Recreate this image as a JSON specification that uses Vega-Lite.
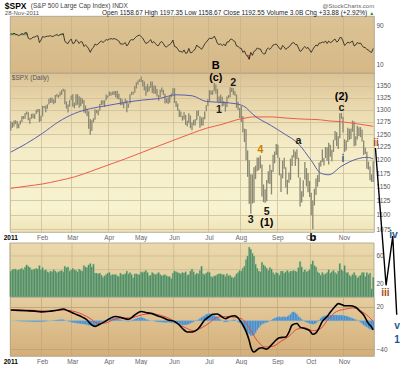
{
"$schema":"https://vega.github.io/schema/vega-lite/v6.json",
"background":"white",
"padding":{"left":2,"top":1,"right":0,"bottom":0},
"config":{"font":"Liberation Sans","view":{"stroke":"#a69e88","strokeWidth":0.8},"axis":{"labelFontSize":6.5,"labelColor":"#555","ticks":false,"domain":false,"labelFont":"Liberation Sans"}},
"datasets":{
"p":[
{"d":"2011-01-03","h":1276.2,"l":1257.6,"v":38,"r":73,"mh":0,"m5":1215,"m2":1147,"mc":15,"sg":15},
{"d":"2011-01-04","h":1274.1,"l":1262.7,"v":40,"r":72,"mh":0},
{"d":"2011-01-05","h":1277.6,"l":1265.4,"v":41,"r":74,"mh":0},
{"d":"2011-01-06","h":1278.2,"l":1270.4,"v":41,"r":72,"mh":-0.2},
{"d":"2011-01-07","h":1276.8,"l":1261.7,"v":39,"r":71,"mh":-0.3},
{"d":"2011-01-10","h":1271.5,"l":1262.2,"v":40,"r":69,"mh":-0.5,"mc":14.5},
{"d":"2011-01-11","h":1277.6,"l":1269.8,"v":41,"r":71,"mh":-0.6},
{"d":"2011-01-12","h":1286.9,"l":1274.5,"v":42,"r":73,"mh":-0.7},
{"d":"2011-01-13","h":1286.9,"l":1280.5,"v":40,"r":72,"mh":-0.8},
{"d":"2011-01-14","h":1293.2,"l":1281.1,"v":44,"r":75,"mh":-0.9},
{"d":"2011-01-18","h":1296.1,"l":1290.2,"v":47,"r":75,"mh":-1,"m5":1232,"m2":1151,"mc":14,"sg":15},
{"d":"2011-01-19","h":1294.4,"l":1278.2,"v":45,"r":64,"mh":-1.1},
{"d":"2011-01-20","h":1283.3,"l":1271.3,"v":43,"r":62,"mh":-1.2},
{"d":"2011-01-21","h":1291.2,"l":1281.1,"v":40,"r":63,"mh":-1.3},
{"d":"2011-01-24","h":1291.9,"l":1282.5,"v":40,"r":66,"mh":-1.4},
{"d":"2011-01-25","h":1291.3,"l":1281.1,"v":41,"r":66,"mh":-1.5,"mc":13.5},
{"d":"2011-01-26","h":1299.7,"l":1291.2,"v":42,"r":68,"mh":-1.5},
{"d":"2011-01-27","h":1301.3,"l":1294.4,"v":41,"r":69,"mh":-1.5},
{"d":"2011-01-28","h":1301.3,"l":1274.8,"v":46,"r":55,"mh":-1.6},
{"d":"2011-01-31","h":1287.2,"l":1276.3,"v":40,"r":60,"mh":-1.5,"mc":12.5,"sg":14},
{"d":"2011-02-01","h":1308,"l":1286.1,"v":43,"r":67,"mh":-1.2,"m5":1252,"m2":1155},
{"d":"2011-02-02","h":1307.6,"l":1302.6,"v":39,"r":66,"mh":-1},
{"d":"2011-02-03","h":1308.6,"l":1294.8,"v":40,"r":67,"mh":-0.7},
{"d":"2011-02-04","h":1311,"l":1301.7,"v":37,"r":68,"mh":-0.4},
{"d":"2011-02-07","h":1322.9,"l":1310.9,"v":36,"r":68,"mh":-0.2},
{"d":"2011-02-08","h":1325,"l":1314.2,"v":38,"r":69,"mh":0,"mc":13.5,"sg":13.5},
{"d":"2011-02-09","h":1324.6,"l":1314.4,"v":37,"r":67,"mh":0.3},
{"d":"2011-02-10","h":1321.1,"l":1311.1,"v":40,"r":68,"mh":0.6},
{"d":"2011-02-11","h":1330.8,"l":1313.7,"v":38,"r":70,"mh":0.9},
{"d":"2011-02-14","h":1332.5,"l":1326.9,"v":36,"r":71,"mh":1.1},
{"d":"2011-02-15","h":1330.8,"l":1324.6,"v":37,"r":69,"mh":1.3,"m5":1275,"m2":1161,"mc":15},
{"d":"2011-02-16","h":1337.6,"l":1328,"v":38,"r":71,"mh":1.5},
{"d":"2011-02-17","h":1341,"l":1331,"v":39,"r":72,"mh":1.6},
{"d":"2011-02-18","h":1344.1,"l":1338.1,"v":37,"r":73,"mh":1.5,"mc":16.5,"sg":15},
{"d":"2011-02-22","h":1342.3,"l":1311,"v":45,"r":58,"mh":0.8},
{"d":"2011-02-23","h":1317,"l":1302.4,"v":43,"r":54,"mh":0},
{"d":"2011-02-24","h":1310.9,"l":1294.3,"v":44,"r":53,"mh":-0.5,"mc":14},
{"d":"2011-02-25","h":1320,"l":1306.1,"v":38,"r":59,"mh":-1.2},
{"d":"2011-02-28","h":1329.4,"l":1320,"v":40,"r":62,"mh":-2,"sg":14},
{"d":"2011-03-01","h":1332.3,"l":1306.1,"v":42,"r":53,"mh":-2.5},
{"d":"2011-03-02","h":1314.4,"l":1302.6,"v":40,"r":54,"mh":-3,"m5":1292,"m2":1168,"mc":10},
{"d":"2011-03-03","h":1332.3,"l":1308.4,"v":39,"r":61,"mh":-3.3},
{"d":"2011-03-04","h":1332.3,"l":1310.3,"v":37,"r":58,"mh":-3.6},
{"d":"2011-03-07","h":1327.7,"l":1304,"v":41,"r":53,"mh":-3.9},
{"d":"2011-03-08","h":1325.1,"l":1306.9,"v":39,"r":57,"mh":-4.2},
{"d":"2011-03-09","h":1323.2,"l":1312.3,"v":38,"r":56,"mh":-4.5,"mc":5,"sg":9},
{"d":"2011-03-10","h":1320,"l":1294.1,"v":46,"r":47,"mh":-4.8},
{"d":"2011-03-11","h":1308.4,"l":1292,"v":44,"r":50,"mh":-5.2},
{"d":"2011-03-14","h":1301.6,"l":1286.4,"v":43,"r":47,"mh":-5.6,"mc":1},
{"d":"2011-03-15","h":1296.4,"l":1261.1,"v":47,"r":42,"mh":-6.2},
{"d":"2011-03-16","h":1280.9,"l":1249.1,"v":49,"r":35,"mh":-6.8,"m5":1302,"m2":1178,"mc":-4,"sg":3},
{"d":"2011-03-17","h":1278,"l":1256.9,"v":44,"r":42,"mh":-7.3},
{"d":"2011-03-18","h":1282.3,"l":1273.7,"v":48,"r":45,"mh":-7.5},
{"d":"2011-03-21","h":1300.6,"l":1279.2,"v":35,"r":52,"mh":-7.2,"mc":-8},
{"d":"2011-03-22","h":1299.6,"l":1292.7,"v":35,"r":50,"mh":-6},
{"d":"2011-03-23","h":1299.8,"l":1288.5,"v":34,"r":52,"mh":-4.5,"sg":-4},
{"d":"2011-03-24","h":1311.8,"l":1297.5,"v":35,"r":56,"mh":-3,"mc":-5},
{"d":"2011-03-25","h":1319.2,"l":1309.7,"v":32,"r":58,"mh":-2},
{"d":"2011-03-28","h":1319.7,"l":1310.2,"v":29,"r":55,"mh":-1},
{"d":"2011-03-29","h":1319.5,"l":1305.3,"v":31,"r":58,"mh":0},
{"d":"2011-03-30","h":1331.7,"l":1319.4,"v":33,"r":61,"mh":1,"m5":1308,"m2":1189,"mc":0,"sg":-3},
{"d":"2011-03-31","h":1329.8,"l":1325,"v":35,"r":60,"mh":1.8},
{"d":"2011-04-01","h":1337.9,"l":1328.9,"v":36,"r":62,"mh":2.5},
{"d":"2011-04-04","h":1336.7,"l":1329.1,"v":32,"r":63,"mh":3,"mc":4},
{"d":"2011-04-05","h":1337.9,"l":1331.1,"v":33,"r":62,"mh":3.2},
{"d":"2011-04-06","h":1339,"l":1330.7,"v":33,"r":63,"mh":3.3,"sg":2},
{"d":"2011-04-07","h":1339,"l":1326.1,"v":33,"r":62,"mh":3.3,"mc":6},
{"d":"2011-04-08","h":1339.5,"l":1322.9,"v":31,"r":60,"mh":2.8},
{"d":"2011-04-11","h":1333.2,"l":1321.1,"v":30,"r":58,"mh":2.2},
{"d":"2011-04-12","h":1324.5,"l":1309,"v":35,"r":52,"mh":1.5},
{"d":"2011-04-13","h":1321.4,"l":1309.5,"v":33,"r":52,"mh":0.8,"mc":4,"sg":4},
{"d":"2011-04-14","h":1314.5,"l":1303,"v":33,"r":52,"mh":0.2},
{"d":"2011-04-15","h":1322.6,"l":1312.7,"v":34,"r":55,"mh":-0.3,"m5":1315,"m2":1202},
{"d":"2011-04-18","h":1319.7,"l":1294.7,"v":38,"r":48,"mh":-0.8},
{"d":"2011-04-19","h":1312.7,"l":1304,"v":34,"r":52,"mh":-1,"mc":2},
{"d":"2011-04-20","h":1332.2,"l":1312.6,"v":36,"r":59,"mh":-0.2,"sg":4},
{"d":"2011-04-21","h":1337.5,"l":1330.4,"v":33,"r":61,"mh":0.7},
{"d":"2011-04-25","h":1337.6,"l":1331.7,"v":28,"r":60,"mh":1.5},
{"d":"2011-04-26","h":1349.6,"l":1335.3,"v":34,"r":64,"mh":2.3,"mc":8},
{"d":"2011-04-27","h":1357.5,"l":1344.4,"v":34,"r":67,"mh":3},
{"d":"2011-04-28","h":1361.7,"l":1352.9,"v":33,"r":69,"mh":3.7},
{"d":"2011-04-29","h":1364.6,"l":1358.7,"v":33,"r":70,"mh":4.3},
{"d":"2011-05-02","h":1370.6,"l":1358.6,"v":37,"r":67,"mh":4.8,"mc":13,"sg":8},
{"d":"2011-05-03","h":1362.9,"l":1348.7,"v":36,"r":64,"mh":4.2,"m5":1320,"m2":1215},
{"d":"2011-05-04","h":1359.4,"l":1340.9,"v":37,"r":58,"mh":3.2},
{"d":"2011-05-05","h":1349.3,"l":1329.2,"v":39,"r":53,"mh":2.2},
{"d":"2011-05-06","h":1354.4,"l":1336.4,"v":36,"r":55,"mh":1.5,"mc":11},
{"d":"2011-05-09","h":1349.4,"l":1338.6,"v":31,"r":57,"mh":0.8},
{"d":"2011-05-10","h":1359.4,"l":1346.3,"v":32,"r":61,"mh":0.3,"sg":10},
{"d":"2011-05-11","h":1359.7,"l":1335.6,"v":36,"r":54,"mh":0,"mc":10},
{"d":"2011-05-12","h":1351.1,"l":1333.4,"v":34,"r":57,"mh":-0.5},
{"d":"2011-05-13","h":1350.5,"l":1333.3,"v":33,"r":53,"mh":-1},
{"d":"2011-05-16","h":1343.3,"l":1327.3,"v":34,"r":49,"mh":-1.5,"mc":7},
{"d":"2011-05-17","h":1330.4,"l":1318.5,"v":36,"r":49,"mh":-1.8,"m5":1323,"m2":1227},
{"d":"2011-05-18","h":1341.5,"l":1326.6,"v":33,"r":55,"mh":-2},
{"d":"2011-05-19","h":1346.8,"l":1336.6,"v":31,"r":57,"mh":-2.2,"mc":5,"sg":7},
{"d":"2011-05-20","h":1342,"l":1330.7,"v":32,"r":53,"mh":-2.3},
{"d":"2011-05-23","h":1333.3,"l":1312.6,"v":33,"r":47,"mh":-2.4},
{"d":"2011-05-24","h":1323.7,"l":1313.9,"v":31,"r":46,"mh":-2.4},
{"d":"2011-05-25","h":1325.9,"l":1311.8,"v":30,"r":49,"mh":-2.3,"mc":1},
{"d":"2011-05-26","h":1328.5,"l":1314.4,"v":30,"r":51,"mh":-2.5,"sg":3},
{"d":"2011-05-27","h":1334,"l":1325.7,"v":27,"r":54,"mh":-2.8},
{"d":"2011-05-31","h":1345.2,"l":1331.1,"v":35,"r":60,"mh":-3},
{"d":"2011-06-01","h":1345.2,"l":1313.7,"v":38,"r":47,"mh":-3.5,"mc":-1},
{"d":"2011-06-02","h":1318,"l":1305.6,"v":37,"r":46,"mh":-4,"m5":1331,"m2":1240},
{"d":"2011-06-03","h":1312.9,"l":1297.9,"v":36,"r":42,"mh":-4.5,"sg":-4},
{"d":"2011-06-06","h":1300.2,"l":1284.9,"v":35,"r":37,"mh":-5,"mc":-6},
{"d":"2011-06-07","h":1296.2,"l":1284.7,"v":34,"r":37,"mh":-5.5},
{"d":"2011-06-08","h":1287.2,"l":1277.4,"v":36,"r":35,"mh":-6,"mc":-11},
{"d":"2011-06-09","h":1294.5,"l":1279.6,"v":35,"r":40,"mh":-6},
{"d":"2011-06-10","h":1289,"l":1268.5,"v":37,"r":33,"mh":-6,"sg":-10},
{"d":"2011-06-13","h":1277,"l":1265.6,"v":32,"r":34,"mh":-5.5,"mc":-16},
{"d":"2011-06-14","h":1292.5,"l":1272,"v":33,"r":43,"mh":-4.5},
{"d":"2011-06-15","h":1287.9,"l":1261.9,"v":38,"r":34,"mh":-3.5},
{"d":"2011-06-16","h":1274.1,"l":1258.1,"v":41,"r":35,"mh":-2.5,"m5":1329,"m2":1252,"mc":-16},
{"d":"2011-06-17","h":1279,"l":1267.6,"v":37,"r":38,"mh":-1.5,"sg":-14},
{"d":"2011-06-20","h":1280.4,"l":1267.6,"v":33,"r":42,"mh":-0.5},
{"d":"2011-06-21","h":1297.6,"l":1278.4,"v":35,"r":50,"mh":0.5},
{"d":"2011-06-22","h":1298.6,"l":1286.8,"v":34,"r":46,"mh":1.5,"mc":-11},
{"d":"2011-06-23","h":1286.8,"l":1262.9,"v":39,"r":45,"mh":3},
{"d":"2011-06-24","h":1283.5,"l":1267.2,"v":45,"r":41,"mh":4.5,"sg":-10},
{"d":"2011-06-27","h":1284.9,"l":1267.5,"v":34,"r":46,"mh":6},
{"d":"2011-06-28","h":1296.2,"l":1280.1,"v":33,"r":52,"mh":7,"mc":1},
{"d":"2011-06-29","h":1309.2,"l":1296.7,"v":35,"r":56,"mh":9,"m5":1317,"m2":1262},
{"d":"2011-06-30","h":1322,"l":1307.6,"v":37,"r":60,"mh":9.5},
{"d":"2011-07-01","h":1341,"l":1318.2,"v":36,"r":64,"mh":10,"mc":6,"sg":-3},
{"d":"2011-07-05","h":1340,"l":1331.3,"v":30,"r":63,"mh":9.5},
{"d":"2011-07-06","h":1340.1,"l":1330.9,"v":29,"r":64,"mh":9,"mc":9},
{"d":"2011-07-07","h":1356.5,"l":1339.2,"v":31,"r":68,"mh":7.5},
{"d":"2011-07-08","h":1353.2,"l":1333.2,"v":31,"r":62,"mh":6},
{"d":"2011-07-11","h":1343.8,"l":1316.4,"v":33,"r":53,"mh":4.5,"mc":9.5,"sg":5},
{"d":"2011-07-12","h":1327.2,"l":1313.3,"v":34,"r":51,"mh":3},
{"d":"2011-07-13","h":1331.5,"l":1313.6,"v":34,"r":52,"mh":1.5},
{"d":"2011-07-14","h":1326.7,"l":1306.3,"v":33,"r":49,"mh":0,"m5":1315,"m2":1270,"mc":5},
{"d":"2011-07-15","h":1317.7,"l":1307.8,"v":33,"r":52,"mh":-1},
{"d":"2011-07-18","h":1316.1,"l":1295.9,"v":30,"r":48,"mh":-2,"mc":3,"sg":6},
{"d":"2011-07-19","h":1327.2,"l":1305.4,"v":34,"r":56,"mh":-1.5},
{"d":"2011-07-20","h":1330.4,"l":1323.7,"v":31,"r":56,"mh":-0.8},
{"d":"2011-07-21","h":1347,"l":1325.8,"v":32,"r":61,"mh":0,"mc":6},
{"d":"2011-07-22","h":1346.1,"l":1336.9,"v":29,"r":62,"mh":0.8},
{"d":"2011-07-25","h":1345,"l":1331.1,"v":28,"r":59,"mh":1.2,"sg":5},
{"d":"2011-07-26","h":1338.5,"l":1329.2,"v":30,"r":57,"mh":1.2,"mc":7},
{"d":"2011-07-27","h":1331.9,"l":1303.5,"v":34,"r":48,"mh":0,"m5":1312,"m2":1279},
{"d":"2011-07-28","h":1316.3,"l":1299.2,"v":36,"r":47,"mh":-1.5},
{"d":"2011-07-29","h":1303.5,"l":1282.9,"v":39,"r":44,"mh":-3,"mc":1},
{"d":"2011-08-01","h":1307.4,"l":1274.7,"v":38,"r":43,"mh":-5,"sg":3},
{"d":"2011-08-02","h":1286.9,"l":1254,"v":42,"r":35,"mh":-8,"mc":-6},
{"d":"2011-08-03","h":1261.2,"l":1234.6,"v":45,"r":38,"mh":-11},
{"d":"2011-08-04","h":1260.3,"l":1199.5,"v":55,"r":30,"mh":-14,"m5":1304,"m2":1283,"mc":-15},
{"d":"2011-08-05","h":1218.3,"l":1168.1,"v":60,"r":27,"mh":-17},
{"d":"2011-08-08","h":1199.4,"l":1119.3,"v":73,"r":21,"mh":-19,"mc":-28,"sg":-10},
{"d":"2011-08-09","h":1172.9,"l":1101.5,"v":70,"r":35,"mh":-21,"mc":-37},
{"d":"2011-08-10","h":1172.5,"l":1119.5,"v":64,"r":29,"mh":-21,"m5":1291,"m2":1285},
{"d":"2011-08-11","h":1186.3,"l":1121.1,"v":60,"r":37,"mh":-20,"mc":-44},
{"d":"2011-08-12","h":1189,"l":1164.2,"v":48,"r":39,"mh":-17},
{"d":"2011-08-15","h":1204.5,"l":1178.8,"v":42,"r":44,"mh":-13,"sg":-28},
{"d":"2011-08-16","h":1204.5,"l":1180.5,"v":38,"r":42,"mh":-10,"mc":-39},
{"d":"2011-08-17","h":1208.5,"l":1184.4,"v":37,"r":42,"mh":-7},
{"d":"2011-08-18","h":1191.1,"l":1132,"v":51,"r":35,"mh":-5,"mc":-38},
{"d":"2011-08-19","h":1154.1,"l":1122.1,"v":47,"r":32,"mh":-4},
{"d":"2011-08-22","h":1145.5,"l":1121.1,"v":45,"r":32,"mh":-3,"sg":-37},
{"d":"2011-08-23","h":1162.4,"l":1123.8,"v":42,"r":41,"mh":-2.5,"mc":-40},
{"d":"2011-08-24","h":1178.6,"l":1156.3,"v":39,"r":44,"mh":-1.5},
{"d":"2011-08-25","h":1190.7,"l":1155.1,"v":43,"r":41,"mh":0},
{"d":"2011-08-26","h":1181.2,"l":1135.9,"v":41,"r":45,"mh":1,"m5":1267,"m2":1285,"mc":-34},
{"d":"2011-08-29","h":1210.1,"l":1177,"v":36,"r":50,"mh":2.5,"sg":-36},
{"d":"2011-08-30","h":1216.3,"l":1193.7,"v":33,"r":51,"mh":3.5},
{"d":"2011-08-31","h":1230.7,"l":1209.4,"v":36,"r":52,"mh":4.5,"mc":-27},
{"d":"2011-09-01","h":1229.3,"l":1203.9,"v":35,"r":48,"mh":5.5},
{"d":"2011-09-02","h":1204.4,"l":1170.9,"v":32,"r":43,"mh":5.5,"mc":-24},
{"d":"2011-09-06","h":1174,"l":1140.1,"v":38,"r":41,"mh":5,"sg":-29},
{"d":"2011-09-07","h":1198.6,"l":1165.2,"v":38,"r":49,"mh":5.5},
{"d":"2011-09-08","h":1204.2,"l":1183.3,"v":35,"r":46,"mh":5.5,"m5":1251,"m2":1283},
{"d":"2011-09-09","h":1185.9,"l":1148.4,"v":37,"r":41,"mh":5,"mc":-23},
{"d":"2011-09-12","h":1162.6,"l":1136.1,"v":39,"r":44,"mh":6},
{"d":"2011-09-13","h":1176.4,"l":1157.4,"v":36,"r":46,"mh":7.5,"mc":-16,"sg":-22},
{"d":"2011-09-14","h":1202.4,"l":1162.7,"v":38,"r":50,"mh":9},
{"d":"2011-09-15","h":1209.1,"l":1188.7,"v":38,"r":54,"mh":12,"mc":-6},
{"d":"2011-09-16","h":1220.1,"l":1204.5,"v":39,"r":55,"mh":12.5},
{"d":"2011-09-19","h":1216,"l":1188.4,"v":38,"r":51,"mh":11},
{"d":"2011-09-20","h":1220.4,"l":1201.3,"v":37,"r":51,"mh":9,"mc":-4,"sg":-12},
{"d":"2011-09-21","h":1204.1,"l":1166.8,"v":43,"r":44,"mh":6,"m5":1231,"m2":1281},
{"d":"2011-09-22","h":1166.8,"l":1114.2,"v":52,"r":37,"mh":4,"mc":-9},
{"d":"2011-09-23","h":1141.7,"l":1121.4,"v":44,"r":39,"mh":2},
{"d":"2011-09-26","h":1162,"l":1131.6,"v":37,"r":44,"mh":0.5},
{"d":"2011-09-27","h":1195.9,"l":1163,"v":40,"r":47,"mh":-1,"mc":-11,"sg":-10},
{"d":"2011-09-28","h":1184.6,"l":1150.9,"v":37,"r":43,"mh":-2},
{"d":"2011-09-29","h":1175.4,"l":1139.9,"v":38,"r":45,"mh":-3},
{"d":"2011-09-30","h":1160.4,"l":1131.3,"v":40,"r":40,"mh":-4,"mc":-14},
{"d":"2011-10-03","h":1139,"l":1098.9,"v":48,"r":35,"mh":-4.5,"m5":1199,"m2":1280},
{"d":"2011-10-04","h":1125.1,"l":1074.8,"v":53,"r":41,"mh":-5,"mc":-19,"sg":-14},
{"d":"2011-10-05","h":1146.1,"l":1116.1,"v":46,"r":46,"mh":-4.5},
{"d":"2011-10-06","h":1165,"l":1134.9,"v":44,"r":50,"mh":-3.5,"mc":-17},
{"d":"2011-10-07","h":1171.4,"l":1150.3,"v":37,"r":48,"mh":-1},
{"d":"2011-10-10","h":1194.9,"l":1158.7,"v":35,"r":54,"mh":1,"mc":-10},
{"d":"2011-10-11","h":1199,"l":1187.3,"v":32,"r":54,"mh":3.5,"m5":1175,"m2":1279,"sg":-11},
{"d":"2011-10-12","h":1220.3,"l":1196,"v":36,"r":56,"mh":5.5,"mc":-1},
{"d":"2011-10-13","h":1203.9,"l":1189.4,"v":33,"r":55,"mh":6.5},
{"d":"2011-10-14","h":1224.6,"l":1203.7,"v":34,"r":58,"mh":7},
{"d":"2011-10-17","h":1224.6,"l":1198.6,"v":36,"r":53,"mh":7.5,"mc":6},
{"d":"2011-10-18","h":1233.1,"l":1191.5,"v":40,"r":58,"mh":8,"m5":1172,"m2":1277,"sg":3},
{"d":"2011-10-19","h":1229.3,"l":1206.3,"v":35,"r":55,"mh":8,"mc":12},
{"d":"2011-10-20","h":1219.4,"l":1197.3,"v":37,"r":56,"mh":8},
{"d":"2011-10-21","h":1239,"l":1215.4,"v":39,"r":60,"mh":8},
{"d":"2011-10-24","h":1256.5,"l":1238.3,"v":36,"r":62,"mh":8,"mc":20},
{"d":"2011-10-25","h":1254.2,"l":1226.8,"v":34,"r":56,"mh":8,"sg":13},
{"d":"2011-10-26","h":1246,"l":1221.1,"v":38,"r":58,"mh":7.5,"mc":24},
{"d":"2011-10-27","h":1292.7,"l":1242,"v":49,"r":65,"mh":8},
{"d":"2011-10-28","h":1293,"l":1281.3,"v":40,"r":65,"mh":8,"m5":1188,"m2":1275,"mc":23},
{"d":"2011-10-31","h":1285.1,"l":1253.3,"v":38,"r":58,"mh":7.5},
{"d":"2011-11-01","h":1240,"l":1215.4,"v":46,"r":49,"mh":7,"mc":21,"sg":16},
{"d":"2011-11-02","h":1237.9,"l":1218.3,"v":36,"r":52,"mh":6.5},
{"d":"2011-11-03","h":1263.2,"l":1234.8,"v":36,"r":56,"mh":6},
{"d":"2011-11-04","h":1260.8,"l":1238.9,"v":32,"r":54,"mh":5,"mc":21},
{"d":"2011-11-07","h":1261.7,"l":1240.8,"v":30,"r":56,"mh":4},
{"d":"2011-11-08","h":1277.6,"l":1255,"v":33,"r":58,"mh":3.5,"sg":18},
{"d":"2011-11-09","h":1275.9,"l":1226.6,"v":36,"r":48,"mh":2.5},
{"d":"2011-11-10","h":1246.3,"l":1227.7,"v":32,"r":50,"mh":1.5,"mc":19},
{"d":"2011-11-11","h":1267,"l":1239.7,"v":28,"r":55,"mh":0.5,"m5":1202,"m2":1271},
{"d":"2011-11-14","h":1263.9,"l":1246.7,"v":30,"r":53,"mh":-0.5,"mc":15},
{"d":"2011-11-15","h":1264.3,"l":1244.3,"v":32,"r":54,"mh":-2,"sg":14},
{"d":"2011-11-16","h":1259.6,"l":1235.7,"v":36,"r":49,"mh":-4},
{"d":"2011-11-17","h":1237.7,"l":1209.4,"v":36,"r":45,"mh":-6,"mc":8},
{"d":"2011-11-18","h":1223.5,"l":1211.4,"v":30,"r":45,"mh":-7.5},
{"d":"2011-11-21","h":1215.6,"l":1183.2,"v":36,"r":41,"mh":-9,"m5":1205,"m2":1268},
{"d":"2011-11-22","h":1196.8,"l":1181.7,"v":33,"r":40,"mh":-10.5,"mc":-4,"sg":6},
{"d":"2011-11-23","h":1187.5,"l":1161.8,"v":35,"r":36,"mh":-12},
{"d":"2011-11-25","h":1172.7,"l":1158.7,"v":12,"r":35,"mh":-12.5,"mc":-9},
{"d":"2011-11-28","h":1197.4,"l":1158.7,"v":29,"r":43,"mh":-12,"m5":1202,"m2":1266,"mc":-13,"sg":-1}
],
"months":[{"d":"2011-01-03"},{"d":"2011-02-01"},{"d":"2011-03-01"},{"d":"2011-04-01"},{"d":"2011-05-02"},{"d":"2011-06-01"},{"d":"2011-07-01"},{"d":"2011-08-01"},{"d":"2011-09-01"},{"d":"2011-10-03"},{"d":"2011-11-01"}],
"vgrid":[{"g":20},{"g":40},{"g":60}],
"lab":[
{"d":"2011-07-08","p":1393,"w":"B","deg":"Primary"},
{"d":"2011-07-08","p":1367,"w":"(c)","deg":"Intermediate"},
{"d":"2011-07-25","p":1356,"w":"2","deg":"Minor"},
{"d":"2011-07-12","p":1299,"w":"1","deg":"Minor"},
{"d":"2011-08-17","p":1219,"w":"4","deg":"MinorAlt"},
{"d":"2011-09-21","p":1237,"w":"a","deg":"Minor"},
{"d":"2011-10-28","p":1326,"w":"(2)","deg":"Intermediate"},
{"d":"2011-10-28","p":1304,"w":"c","deg":"Minor"},
{"d":"2011-10-31","p":1201,"w":"i","deg":"Minute"},
{"d":"2011-08-09","p":1090,"w":"3","deg":"Minor"},
{"d":"2011-08-23","p":1105,"w":"5","deg":"Minor"},
{"d":"2011-08-23","p":1086,"w":"(1)","deg":"Intermediate"},
{"d":"2011-10-04","p":1059,"w":"b","deg":"Primary"}
],
"proj":[
{"t":229.4,"p":1223},{"t":236.1,"p":983},{"t":240.3,"p":1063},{"t":242.8,"p":938}
],
"projlab":[
{"t":229.8,"p":1233,"w":"ii","deg":"MinuteAlt"},
{"t":235.7,"p":971,"w":"iii","deg":"MinuteAlt"},
{"t":240.8,"p":1065,"w":"iv","deg":"Minute"},
{"t":243,"p":921,"w":"v","deg":"Minute"},
{"t":243,"p":901,"w":"1","deg":"MinorNext"}
]
},
"spacing":0,
"bounds":"flush",
"resolve":{"scale":{"x":"independent","y":"independent","color":"independent","size":"independent"}},
"vconcat":[
{
"width":364,"height":57,
"view":{"fill":{"gradient":"linear","x1":0,"y1":0,"x2":0,"y2":1,"stops":[{"offset":0,"color":"#dcc395"},{"offset":1,"color":"#d6b886"}]},"stroke":"#a69e88"},
"layer":[
{"data":{"name":"p"},"transform":[{"filter":"datum.r > 70"}],"mark":{"type":"bar","color":"#6b9a5c"},
 "encoding":{"x":{"field":"d","type":"ordinal","scale":{"type":"band","paddingInner":0,"paddingOuter":0},"axis":{"values":["2011-01-03","2011-02-01","2011-03-01","2011-04-01","2011-05-02","2011-06-01","2011-07-01","2011-08-01","2011-09-01","2011-10-03","2011-11-01"],"bandPosition":0,"labels":false,"grid":true,"gridColor":"#c2ad85","gridOpacity":0.6,"title":null,"maxExtent":0}},
 "y":{"field":"r","type":"quantitative","title":null,"scale":{"domain":[-7,109],"nice":false,"zero":false},"axis":{"orient":"right","values":[10,30,50,70,90],"title":null,"gridColor":"#a3916f","gridDash":{"condition":{"test":"datum.value == 50","value":[3,2]},"value":[]},"gridOpacity":{"condition":{"test":"datum.value == 10 || datum.value == 90","value":0},"value":1}}},
 "y2":{"datum":70}}},
{"data":{"name":"p"},"transform":[{"filter":"datum.r < 30"}],"mark":{"type":"bar","color":"#c4554a"},
 "encoding":{"x":{"field":"d","type":"ordinal"},"y":{"field":"r","type":"quantitative","title":null},"y2":{"datum":30}}},
{"data":{"name":"p"},"mark":{"type":"line","color":"#1a1a1a","strokeWidth":0.8},
 "encoding":{"x":{"field":"d","type":"ordinal"},"y":{"field":"r","type":"quantitative","title":null}}},
{"data":{"values":[{"t":"$SPX"}]},"mark":{"type":"text","align":"left","baseline":"middle","dx":-6,"fontSize":8.5,"fontWeight":"bold","color":"#000"},
 "encoding":{"x":{"datum":"2011-01-03","type":"ordinal"},"y":{"datum":130,"type":"quantitative"},"text":{"field":"t"}}},
{"data":{"values":[{"t":"(S&P 500 Large Cap Index) INDX"}]},"mark":{"type":"text","align":"left","baseline":"middle","dx":20,"fontSize":6.5,"color":"#444"},
 "encoding":{"x":{"datum":"2011-01-03","type":"ordinal"},"y":{"datum":130,"type":"quantitative"},"text":{"field":"t"}}},
{"data":{"values":[{"t":"@StockCharts.com"}]},"mark":{"type":"text","align":"right","baseline":"middle","dx":1,"fontSize":6,"color":"#666"},
 "encoding":{"x":{"datum":"2011-11-28","type":"ordinal"},"y":{"datum":130,"type":"quantitative"},"text":{"field":"t"}}},
{"data":{"values":[{"t":"28-Nov-2011"}]},"mark":{"type":"text","align":"left","baseline":"middle","dx":-6,"fontSize":6,"color":"#555"},
 "encoding":{"x":{"datum":"2011-01-03","type":"ordinal"},"y":{"datum":116,"type":"quantitative"},"text":{"field":"t"}}},
{"data":{"values":[{"t":"Open 1158.67  High 1197.35  Low 1158.67  Close 1192.55  Volume 3.0B  Chg +33.88 (+2.92%)"}]},"mark":{"type":"text","align":"right","baseline":"middle","dx":-6,"fontSize":6.5,"color":"#222"},
 "encoding":{"x":{"datum":"2011-11-28","type":"ordinal"},"y":{"datum":116,"type":"quantitative"},"text":{"field":"t"}}},
{"data":{"values":[{"t":"▲"}]},"mark":{"type":"text","align":"right","baseline":"middle","dx":1,"fontSize":5,"color":"#2a8a2a"},
 "encoding":{"x":{"datum":"2011-11-28","type":"ordinal"},"y":{"datum":116,"type":"quantitative"},"text":{"field":"t"}}}
]
},
{
"width":364,"height":159,
"view":{"fill":{"gradient":"linear","x1":0,"y1":0,"x2":0,"y2":1,"stops":[{"offset":0,"color":"#dcc395"},{"offset":0.2,"color":"#e9d8ac"},{"offset":0.45,"color":"#f4ecc6"},{"offset":0.85,"color":"#f8f3d0"},{"offset":1,"color":"#efe3b7"}]},"stroke":"#a69e88"},
"resolve":{"scale":{"x":"independent"}},
"layer":[
{"data":{"name":"p"},
 "layer":[
 {"mark":{"type":"rule","color":"#8a8773","strokeWidth":1.3},
  "encoding":{"x":{"field":"d","type":"ordinal","scale":{"type":"band","paddingInner":0,"paddingOuter":0},"axis":{"values":["2011-01-03","2011-02-01","2011-03-01","2011-04-01","2011-05-02","2011-06-01","2011-07-01","2011-08-01","2011-09-01","2011-10-03","2011-11-01"],"bandPosition":0,"labelAngle":0,"labelAlign":"center","labelBaseline":"top","labelPadding":2,"labelOverlap":false,"labelBound":false,"labelExpr":"datum.value == '2011-01-03' ? '2011' : utcFormat(toDate(datum.value), '%b')","labelFontWeight":{"condition":{"test":"datum.value == '2011-01-03'","value":"bold"},"value":"normal"},"labelColor":{"condition":{"test":"datum.value == '2011-01-03'","value":"#000"},"value":"#666"},"grid":true,"gridColor":"#cdbf9c","gridOpacity":0.8,"title":null}},
  "y":{"field":"l","type":"quantitative","title":null,"scale":{"type":"log","domain":[1070,1378],"nice":false,"zero":false},"axis":{"orient":"right","values":[1075,1100,1125,1150,1175,1200,1225,1250,1275,1300,1325,1350],"format":"d","title":null,"gridColor":"#cdbf9c","gridOpacity":0.8}},
  "y2":{"field":"h"}}},
 {"transform":[{"filter":"datum.m2 != null"}],"mark":{"type":"line","color":"#ee5c4c","strokeWidth":1,"interpolate":"monotone"},
  "encoding":{"x":{"field":"d","type":"ordinal"},"y":{"field":"m2","type":"quantitative","title":null}}},
 {"transform":[{"filter":"datum.m5 != null"}],"mark":{"type":"line","color":"#5a5eae","strokeWidth":1,"interpolate":"monotone"},
  "encoding":{"x":{"field":"d","type":"ordinal"},"y":{"field":"m5","type":"quantitative","title":null}}},
 {"data":{"name":"lab"},"mark":{"type":"text","fontWeight":"bold","baseline":"middle","align":"center"},
  "encoding":{"x":{"field":"d","type":"ordinal"},"y":{"field":"p","type":"quantitative","title":null},"text":{"field":"w"},
  "color":{"field":"deg","type":"nominal","legend":null,"scale":{"domain":["Primary","Intermediate","Minor","MinorAlt","Minute","MinuteAlt","MinorNext"],"range":["#000000","#000000","#1a1a1a","#d07c00","#2b5d86","#a3501c","#1f4fa0"]}},
  "size":{"field":"deg","type":"ordinal","legend":null,"scale":{"domain":["Primary","Intermediate","Minor","MinorAlt","Minute","MinuteAlt","MinorNext"],"range":[11,10,8.5,8.5,9,9,12]}}}},
 {"data":{"values":[{"t":"$SPX (Daily)"}]},"mark":{"type":"text","align":"left","baseline":"top","dx":1,"dy":1,"fontSize":6.5,"color":"#555"},
  "encoding":{"x":{"datum":"2011-01-03","type":"ordinal"},"y":{"datum":1376,"type":"quantitative"},"text":{"field":"t"}}}
 ]},
{"encoding":{"x":{"field":"t","type":"quantitative","scale":{"domain":[-0.5,228.5],"nice":false,"zero":false},"axis":null}},
 "layer":[
 {"data":{"name":"proj"},"mark":{"type":"line","color":"#000","strokeWidth":1.4},
  "encoding":{"y":{"field":"p","type":"quantitative","title":null}}},
 {"data":{"name":"projlab"},"mark":{"type":"text","fontWeight":"bold","baseline":"middle","align":"center"},
  "encoding":{"y":{"field":"p","type":"quantitative","title":null},"text":{"field":"w"},
  "color":{"field":"deg","type":"nominal","legend":null},
  "size":{"field":"deg","type":"ordinal","legend":null}}}
 ]}
]
},
{
"width":364,"height":65,
"view":{"stroke":null},
"layer":[
{"data":{"values":[{}]},"mark":{"type":"rect","fill":{"gradient":"linear","x1":0,"y1":0,"x2":0,"y2":1,"stops":[{"offset":0,"color":"#ead9ab"},{"offset":1,"color":"#e2ca99"}]},"stroke":"#a69e88","strokeWidth":0.8},
 "encoding":{"y":{"datum":79,"type":"quantitative","scale":{"domain":[0,95.1],"nice":false,"zero":false}},"y2":{"datum":0}}},
{"data":{"name":"vgrid"},"mark":{"type":"rule","color":"#c9b690","opacity":0.7,"strokeWidth":1},
 "encoding":{"y":{"field":"g","type":"quantitative"}}},
{"data":{"name":"months"},"mark":{"type":"rule","color":"#c2ad85","opacity":0.6,"strokeWidth":1},
 "encoding":{"x":{"field":"d","type":"ordinal","bandPosition":0,"scale":{"type":"band","paddingInner":0,"paddingOuter":0},"axis":null},"y":{"datum":79,"type":"quantitative"},"y2":{"datum":0}}},
{"data":{"name":"p"},"mark":{"type":"bar","color":"#4c7f5d","stroke":"#8fd19c","strokeWidth":0.35},
 "encoding":{
 "x":{"field":"d","type":"ordinal","axis":null},
 "y":{"field":"v","type":"quantitative","title":null,"axis":{"orient":"right","values":[20,40,60],"title":null,"grid":false}}}}
]
},
{
"width":364,"height":59,
"view":{"fill":{"gradient":"linear","x1":0,"y1":0,"x2":0,"y2":1,"stops":[{"offset":0,"color":"#e5cda0"},{"offset":1,"color":"#d4ae78"}]},"stroke":"#a69e88"},
"data":{"name":"p"},
"layer":[
{"mark":{"type":"bar","color":"#3f87c8","stroke":"#86bde8","strokeWidth":0.3},
 "encoding":{
 "x":{"field":"d","type":"ordinal","scale":{"type":"band","paddingInner":0,"paddingOuter":0},"axis":{"values":["2011-01-03","2011-02-01","2011-03-01","2011-04-01","2011-05-02","2011-06-01","2011-07-01","2011-08-01","2011-09-01","2011-10-03","2011-11-01"],"bandPosition":0,"labelAngle":0,"labelAlign":"center","labelBaseline":"top","labelPadding":2,"labelOverlap":false,"labelBound":false,"labelExpr":"datum.value == '2011-01-03' ? '2011' : utcFormat(toDate(datum.value), '%b')","labelFontWeight":{"condition":{"test":"datum.value == '2011-01-03'","value":"bold"},"value":"normal"},"labelColor":{"condition":{"test":"datum.value == '2011-01-03'","value":"#000"},"value":"#666"},"grid":true,"gridColor":"#bfa77c","gridOpacity":0.7,"title":null}},
 "y":{"field":"mh","type":"quantitative","title":null,"scale":{"domain":[-49.7,33.4],"nice":false,"zero":false},"axis":{"orient":"right","values":[-40,-20,0,20],"title":null,"gridColor":"#b9a27a","gridOpacity":0.8}},
 "y2":{"datum":0}}},
{"transform":[{"filter":"datum.sg != null"}],"mark":{"type":"line","color":"#e8453c","strokeWidth":1,"interpolate":"monotone"},
 "encoding":{"x":{"field":"d","type":"ordinal"},"y":{"field":"sg","type":"quantitative","title":null}}},
{"transform":[{"filter":"datum.mc != null"}],"mark":{"type":"line","color":"#000","strokeWidth":1.6,"interpolate":"monotone"},
 "encoding":{"x":{"field":"d","type":"ordinal"},"y":{"field":"mc","type":"quantitative","title":null}}}
]
}
]
}
